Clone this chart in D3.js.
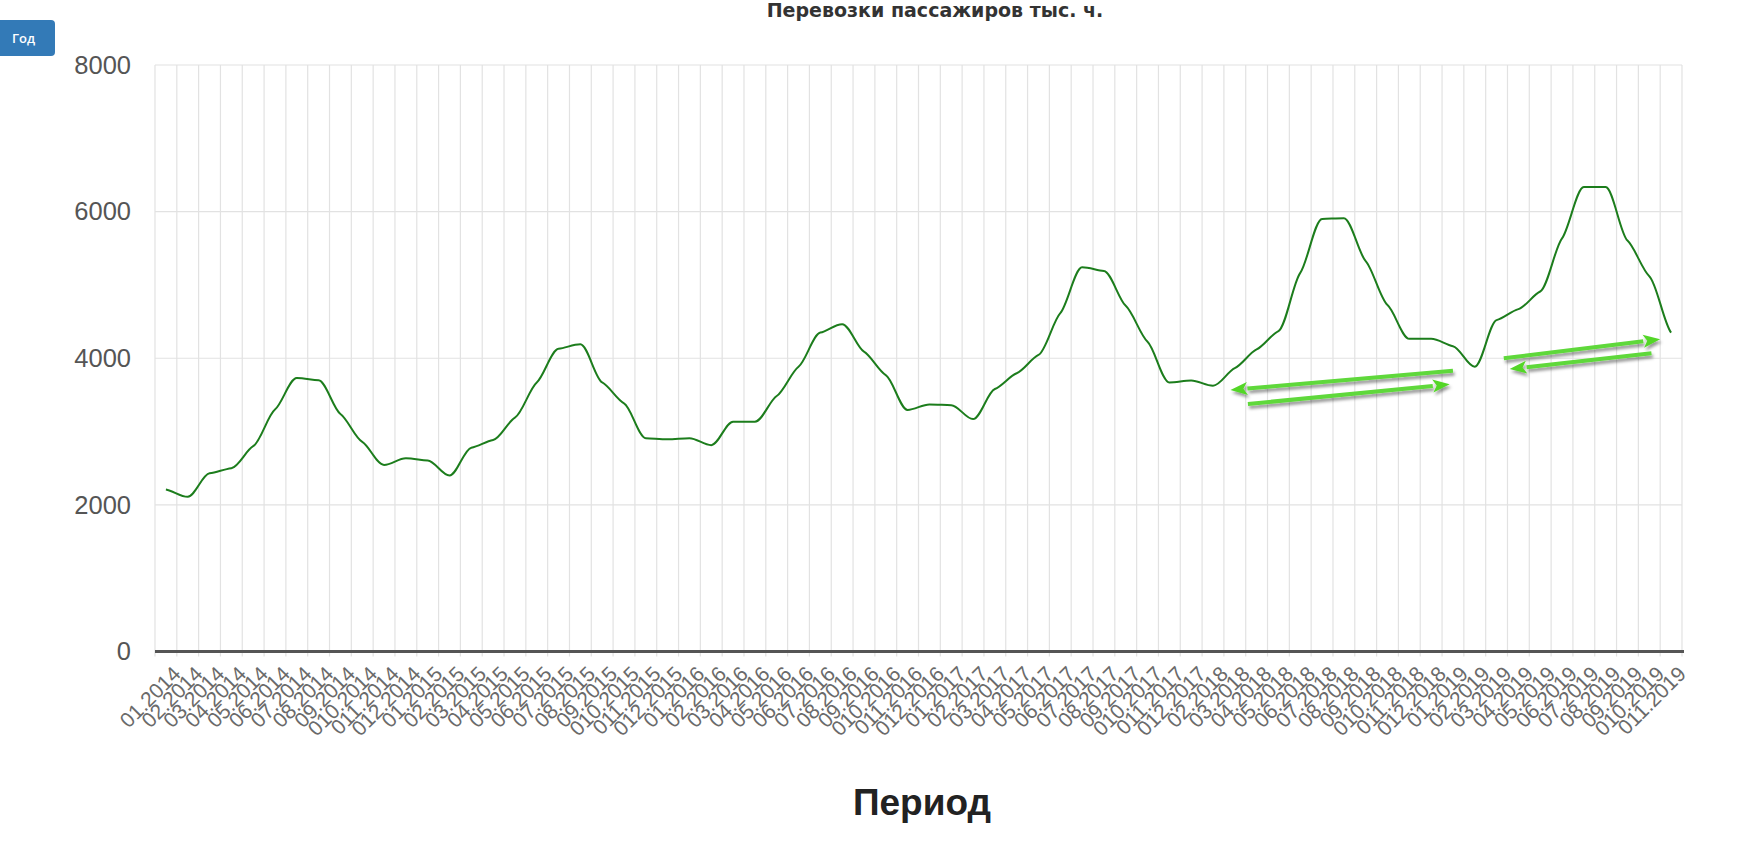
<!DOCTYPE html>
<html>
<head>
<meta charset="utf-8">
<script src="https://cdn.jsdelivr.net/npm/d3@7"></script>
<style>
  html, body { margin: 0; padding: 0; background: #fff; }
  svg { display: block; }
</style>
</head>
<body>
<svg id="chart" width="1746" height="848"></svg>
<script>
// ---- data ----
const periods = [
  "01.2014","02.2014","03.2014","04.2014","05.2014","06.2014","07.2014","08.2014","09.2014","010.2014","011.2014","012.2014",
  "01.2015","02.2015","03.2015","04.2015","05.2015","06.2015","07.2015","08.2015","09.2015","010.2015","011.2015","012.2015",
  "01.2016","02.2016","03.2016","04.2016","05.2016","06.2016","07.2016","08.2016","09.2016","010.2016","011.2016","012.2016",
  "01.2017","02.2017","03.2017","04.2017","05.2017","06.2017","07.2017","08.2017","09.2017","010.2017","011.2017","012.2017",
  "02.2018","03.2018","04.2018","05.2018","06.2018","07.2018","08.2018","09.2018","010.2018","011.2018","012.2018",
  "01.2019","02.2019","03.2019","04.2019","05.2019","06.2019","07.2019","08.2019","09.2019","010.2019","011.2019"
];
const passengers = [
  2210,2110,2430,2500,2800,3300,3730,3700,3240,2860,2545,2635,
  2605,2400,2780,2885,3190,3670,4130,4190,3670,3385,2910,2895,
  2910,2815,3135,3135,3485,3885,4350,4465,4090,3770,3295,3370,
  3360,3170,3580,3795,4045,4615,5240,5190,4715,4225,3670,3695,
  3625,3865,4120,4370,5165,5900,5910,5325,4725,4265,4265,
  4165,3885,4520,4670,4910,5635,6335,6335,5605,5120,4350
];
const yTicks = [0, 2000, 4000, 6000, 8000];
const chartTitle = "Перевозки пассажиров тыс. ч.";
const xTitle = "Период";
const buttonLabel = "Год";
// annotation arrows, in (category index, value) space
const arrowTails = [[59.0, 3830], [49.6, 3376], [61.33, 4000], [68.1, 4068]];
const arrowHeads = [[48.8, 3567], [58.85, 3645], [68.5, 4259], [61.6, 3853]];

(function () {
// ---- layout ----
const svg = d3.select("#chart");
const pLeft = 155, pRight = 1682, pTop = 65, pBottom = 651.5;

const x = d3.scaleBand().domain(periods).range([pLeft, pRight]).paddingInner(0).paddingOuter(0);
const bw = x.bandwidth();
const y = d3.scaleLinear().domain([0, 8000]).range([pBottom, pTop]);
const cx = d => x(d) + bw / 2;
const xi = d3.scaleLinear().domain([0, periods.length - 1])
  .range([cx(periods[0]), cx(periods[periods.length - 1])]);

// defs
const defs = svg.append("defs");
const f = defs.append("filter").attr("id", "shadow").attr("x", "-10%").attr("y", "-50%").attr("width", "120%").attr("height", "250%");
f.append("feDropShadow").attr("dx", 1.5).attr("dy", 3).attr("stdDeviation", 1.6)
  .attr("flood-color", "#000").attr("flood-opacity", 0.4);

// button
svg.append("rect").attr("x", -5).attr("y", 20).attr("width", 60).attr("height", 36)
  .attr("rx", 4).attr("fill", "#337ab7");
svg.append("text").attr("x", 12).attr("y", 42.5).text(buttonLabel)
  .attr("fill", "#fff").attr("font-family", "'Open Sans', sans-serif")
  .attr("font-weight", 600).attr("font-size", 13);

// title
svg.append("text").attr("x", 935).attr("y", 16.5).attr("text-anchor", "middle")
  .text(chartTitle).attr("fill", "#333")
  .attr("font-family", "'DejaVu Sans', sans-serif").attr("font-weight", "bold").attr("font-size", 19);

// vertical grid lines at band edges
const edges = periods.map(p => x(p)).concat([x(periods[periods.length - 1]) + bw]);
svg.append("g").selectAll("line").data(edges).join("line")
  .attr("x1", d => d).attr("x2", d => d)
  .attr("y1", pTop).attr("y2", pBottom + 5)
  .attr("stroke", "#e2e2e2").attr("stroke-width", 1.2);

// horizontal grid lines
svg.append("g").selectAll("line").data(yTicks.filter(t => t > 0)).join("line")
  .attr("x1", pLeft).attr("x2", pRight)
  .attr("y1", d => y(d)).attr("y2", d => y(d))
  .attr("stroke", "#e2e2e2").attr("stroke-width", 1.2);

// y axis labels
const yAxis = svg.append("g").attr("transform", `translate(${pLeft},0)`)
  .call(d3.axisLeft(y).tickValues(yTicks).tickSize(0).tickPadding(24).tickFormat(d3.format("d")));
yAxis.select(".domain").remove();
yAxis.selectAll("text").attr("fill", "#555").attr("font-size", 25.5)
  .attr("font-family", "'Liberation Sans', Arial, sans-serif");

// x axis line
svg.append("line").attr("x1", pLeft).attr("x2", pRight + 2).attr("y1", pBottom).attr("y2", pBottom)
  .attr("stroke", "#555").attr("stroke-width", 3);

// x labels
svg.append("g").selectAll("text").data(periods).join("text")
  .attr("transform", d => `translate(${cx(d) + 11},${670}) rotate(-45)`)
  .attr("text-anchor", "end").attr("dy", "0.35em")
  .attr("fill", "#6a6a6a").attr("font-size", 21)
  .attr("font-family", "'Liberation Sans', Arial, sans-serif")
  .text(d => d);

// x axis title
svg.append("text").attr("x", 922).attr("y", 815).attr("text-anchor", "middle")
  .text(xTitle).attr("fill", "#222").attr("font-weight", "bold").attr("font-size", 37)
  .attr("font-family", "'Liberation Sans', Arial, sans-serif");

// data line: monotone cubic with softened tangents (gives the flat tops and shoulders)
const pts = passengers.map((v, i) => [cx(periods[i]), y(v)]);
const n = pts.length;
const sl = [];
for (let k = 0; k < n - 1; k++) sl.push((pts[k + 1][1] - pts[k][1]) / (pts[k + 1][0] - pts[k][0]));
const tang = pts.map((p, k) => {
  if (k === 0) return sl[0] * 0.5;
  if (k === n - 1) return sl[n - 2] * 0.5;
  const a = sl[k - 1], b = sl[k];
  if (a * b <= 0) return 0;
  const m = Math.sign(a) * Math.min(Math.abs(a), Math.abs(b), Math.abs(a + b) / 2);
  return m * 0.55;
});
const pth = d3.path();
pth.moveTo(pts[0][0], pts[0][1]);
for (let k = 0; k < n - 1; k++) {
  const h = (pts[k + 1][0] - pts[k][0]) / 3;
  pth.bezierCurveTo(pts[k][0] + h, pts[k][1] + h * tang[k],
                    pts[k + 1][0] - h, pts[k + 1][1] - h * tang[k + 1],
                    pts[k + 1][0], pts[k + 1][1]);
}
svg.append("path").datum(passengers).attr("d", pth.toString())
  .attr("fill", "none").attr("stroke", "#1c7d1c").attr("stroke-width", 2);

// annotation arrows
const ag = svg.append("g").attr("filter", "url(#shadow)");
arrowTails.forEach((t, k) => {
  const h = arrowHeads[k];
  const x1 = xi(t[0]), y1 = y(t[1]), x2 = xi(h[0]), y2 = y(h[1]);
  const ang = Math.atan2(y2 - y1, x2 - x1);
  const L = 17, Wd = 6.5;
  const bx = x2 - L * Math.cos(ang), by = y2 - L * Math.sin(ang);
  ag.append("line").attr("x1", x1).attr("y1", y1).attr("x2", bx).attr("y2", by)
    .attr("stroke", "#5ed83a").attr("stroke-width", 4).attr("stroke-linecap", "butt");
  const px = -Math.sin(ang), py = Math.cos(ang);
  ag.append("path")
    .attr("d", `M${x2},${y2}L${bx + px * Wd},${by + py * Wd}L${bx + 4 * Math.cos(ang)},${by + 4 * Math.sin(ang)}L${bx - px * Wd},${by - py * Wd}Z`)
    .attr("fill", "#52d628");
});
})();
</script>
</body>
</html>
